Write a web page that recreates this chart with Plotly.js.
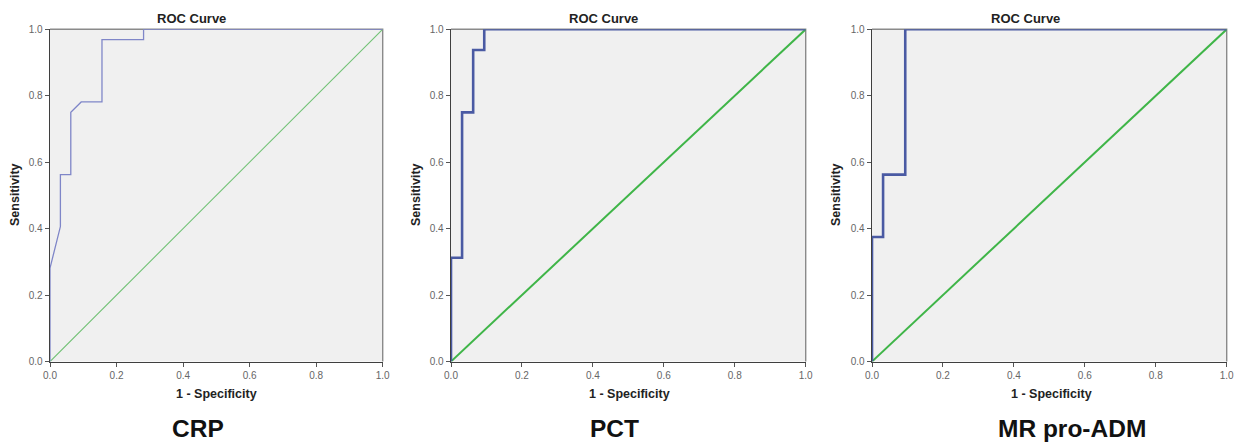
<!DOCTYPE html>
<html>
<head>
<meta charset="utf-8">
<script src="https://cdn.plot.ly/plotly-3.0.1.min.js"></script>
<style>
  html, body { margin: 0; padding: 0; background: #ffffff; }
  #chart { width: 1236px; height: 445px; }
</style>
</head>
<body>
<div id="chart"></div>
<script>
// ---- Data ----
const panelNames = ["CRP", "PCT", "MR pro-ADM"];
const chartTitle = "ROC Curve";
const xTitle = "1 - Specificity";
const yTitle = "Sensitivity";
const tickVals = [0, 0.2, 0.4, 0.6, 0.8, 1.0];
const tickText = ["0.0", "0.2", "0.4", "0.6", "0.8", "1.0"];

const crpFpr = [0, 0, 0.03125, 0.03125, 0.0625, 0.0625, 0.09375, 0.15625, 0.15625, 0.28125, 0.28125, 1];
const crpTpr = [0, 0.28125, 0.40625, 0.5625, 0.5625, 0.75, 0.78125, 0.78125, 0.96875, 0.96875, 1, 1];

const pctFpr = [0, 0, 0.03125, 0.03125, 0.0625, 0.0625, 0.09375, 0.09375, 1];
const pctTpr = [0, 0.3125, 0.3125, 0.75, 0.75, 0.9375, 0.9375, 1, 1];

const mrFpr = [0, 0, 0.03125, 0.03125, 0.09375, 0.09375, 1];
const mrTpr = [0, 0.375, 0.375, 0.5625, 0.5625, 1, 1];

const refX = [0, 1];
const refY = [0, 1];

// ---- Layout geometry (pixels) ----
const W = 1236, H = 445;
const px = v => v / W;
const py = v => 1 - v / H;
const plotX = [[50, 382.7], [451, 805.7], [872, 1226.7]];
const plotTop = 29.3, plotBottom = 361.5;
const titleX = [192, 603, 1025];
const xTitleX = [216.5, 629, 1051];
const yTitleX = [15, 416, 836];
const nameX = [198, 614, 1072];

const curveStyles = [
  {color: "#7f86c8", width: 1.3},
  {color: "#4a5aa3", width: 2.6},
  {color: "#4a5aa3", width: 2.6}
];
const refStyles = [
  {color: "#72c276", width: 1.1},
  {color: "#3fb548", width: 2.0},
  {color: "#3fb548", width: 2.0}
];
const curves = [[crpFpr, crpTpr], [pctFpr, pctTpr], [mrFpr, mrTpr]];

const traces = [];
const layout = {
  width: W, height: H,
  margin: {l: 0, r: 0, t: 0, b: 0},
  paper_bgcolor: "#ffffff",
  showlegend: false,
  font: {family: "Liberation Sans, Arial, sans-serif", color: "#555555"},
  annotations: [],
  shapes: []
};

for (let i = 0; i < 3; i++) {
  const sfx = i === 0 ? "" : String(i + 1);
  const xa = "x" + sfx, ya = "y" + sfx;
  traces.push({
    x: refX, y: refY, xaxis: xa, yaxis: ya,
    type: "scatter", mode: "lines",
    line: {color: refStyles[i].color, width: refStyles[i].width},
    hoverinfo: "skip"
  });
  traces.push({
    x: curves[i][0], y: curves[i][1], xaxis: xa, yaxis: ya,
    type: "scatter", mode: "lines",
    line: {color: curveStyles[i].color, width: curveStyles[i].width, shape: "linear"},
    hoverinfo: "skip"
  });

  const axCommon = {
    range: [0, 1],
    tickvals: tickVals, ticktext: tickText,
    ticks: "outside", ticklen: 4, tickwidth: 1, tickcolor: "#555555",
    showgrid: false, zeroline: false,
    showline: true, linecolor: "#3f3f3f", linewidth: 1.4,
    tickfont: {size: 10, color: "#666666", family: "Liberation Sans, Arial, sans-serif"},
    fixedrange: true
  };
  layout["xaxis" + sfx] = Object.assign({}, axCommon, {
    domain: [px(plotX[i][0]), px(plotX[i][1])],
    anchor: ya
  });
  layout["yaxis" + sfx] = Object.assign({}, axCommon, {
    domain: [py(plotBottom), py(plotTop)],
    anchor: xa
  });

  // top & right frame edges (lighter grey)
  layout.shapes.push({
    type: "path", xref: xa + " domain", yref: ya + " domain",
    path: "M 0 1 L 1 1 L 1 0", layer: "below",
    line: {color: "#8a8a8a", width: 1.4}
  });

  layout.annotations.push({
    text: "<b>" + chartTitle + "</b>", xref: "paper", yref: "paper",
    x: px(titleX[i]), y: py(18), xanchor: "center", yanchor: "middle",
    showarrow: false, font: {size: 13, color: "#222222"}
  });
  layout.annotations.push({
    text: "<b>" + xTitle + "</b>", xref: "paper", yref: "paper",
    x: px(xTitleX[i]), y: py(394), xanchor: "center", yanchor: "middle",
    showarrow: false, font: {size: 12.5, color: "#222222"}
  });
  layout.annotations.push({
    text: "<b>" + yTitle + "</b>", xref: "paper", yref: "paper",
    x: px(yTitleX[i]), y: py(195), xanchor: "center", yanchor: "middle",
    textangle: -90,
    showarrow: false, font: {size: 12.5, color: "#222222"}
  });
  layout.annotations.push({
    text: "<b>" + panelNames[i] + "</b>", xref: "paper", yref: "paper",
    x: px(nameX[i]), y: py(428), xanchor: "center", yanchor: "middle",
    showarrow: false, font: {size: 24.5, color: "#111111"}
  });
}

layout.plot_bgcolor = "#f0f0f0";

Plotly.newPlot("chart", traces, layout, {displayModeBar: false, staticPlot: true});
</script>
</body>
</html>
